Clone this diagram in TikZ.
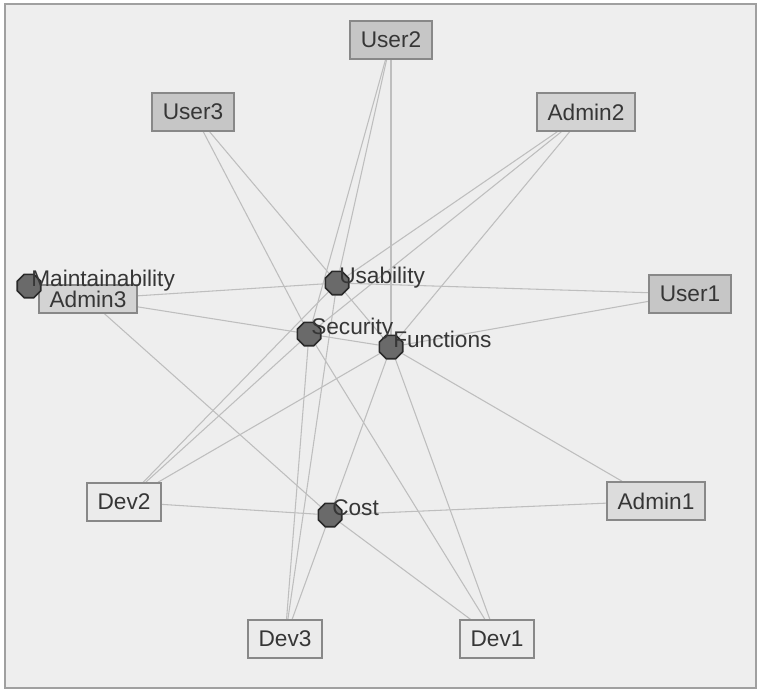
\documentclass[tikz,border=0pt]{standalone}
\usepackage{fontspec}
\setmainfont{Liberation Sans}
\usetikzlibrary{shapes.geometric, backgrounds}
\definecolor{bggray}{HTML}{EEEEEE}
\definecolor{framegray}{HTML}{A0A0A0}
\definecolor{userfill}{HTML}{C6C6C6}
\definecolor{admfill}{HTML}{D3D3D3}
\definecolor{devfill}{HTML}{EBEBEB}
\definecolor{boxline}{HTML}{888888}
\definecolor{octfill}{HTML}{6A6A6A}
\definecolor{octline}{HTML}{2A2A2A}
\definecolor{linkgray}{HTML}{BEBEBE}
\definecolor{txtgray}{HTML}{363636}
\tikzset{
  font={\fontsize{17pt}{20pt}\selectfont}}
\tikzset{
  stake/.style={draw=boxline, line width=1.1pt, text=txtgray, minimum height=28.5pt, inner xsep=8pt, inner ysep=0pt},
  crit/.style={regular polygon, regular polygon sides=8, draw=octline, fill=octfill, line width=1.2pt, minimum size=19pt, inner sep=0pt},
  critlbl/.style={anchor=base west, inner sep=0pt, text=txtgray, xshift=1.5pt},
  link/.style={draw=linkgray, line width=0.8pt},
}

\begin{document}
\begin{tikzpicture}[x=0.75pt, y=-0.75pt]
     \useasboundingbox (0,0) rectangle (760,690);

     % stakeholders
     \node[stake, fill=userfill] (u2) at (391,40) {User2};
     \node[stake, fill=userfill] (u3) at (193,112) {User3};
     \node[stake, fill=admfill] (a2) at (586,112) {Admin2};
     \node[stake, fill=userfill] (u1) at (690,294) {User1};
     \node[stake, fill=admfill, minimum height=21pt] (a3) at (88,299) {Admin3};
     \node[stake, fill=devfill] (d2) at (124,502) {Dev2};
     \node[stake, fill=admfill!80!white] (a1) at (656,501) {Admin1};
     \node[stake, fill=devfill] (d3) at (285,639) {Dev3};
     \node[stake, fill=devfill] (d1) at (497,639) {Dev1};

     % criteria
     \node[crit] (maint) at (29,286) {};
     \node[crit] (usab) at (337,283) {};
     \node[crit] (secu) at (309,334) {};
     \node[crit] (func) at (391,347) {};
     \node[crit] (cost) at (330,515) {};

     \node[critlbl] (maintlbl) at (maint.center) {Maintainability};
     \node[critlbl] (usablbl) at (usab.center) {Usability};
     \node[critlbl] (seculbl) at (secu.center) {Security};
     \node[critlbl] (funclbl) at (func.center) {Functions};
     \node[critlbl] (costlbl) at (cost.center) {Cost};

     \begin{scope}[on background layer]
     \fill[bggray] (5,4) rectangle (756,688);
     \draw[framegray, line width=1.2pt] (5,4) rectangle (756,688);

     %%
     \draw[link] (u2) -- (usab);
     \draw[link] (u2) -- (secu);
     \draw[link] (u2) -- (func);

     \draw[link] (u3) -- (secu);
     \draw[link] (u3) -- (func);

     \draw[link] (u1) -- (usab);
     \draw[link] (u1) -- (func);
     %%

     \draw[link] (a2) -- (usab);
     \draw[link] (a2) -- (secu);
     \draw[link] (a2) -- (func);

     \draw[link] (a3) -- (usab);
     \draw[link] (a3) -- (func);
     \draw[link] (a3) -- (cost);

     \draw[link] (a1) -- (func);
     \draw[link] (a1) -- (cost);
     %%

     \draw[link] (d2) -- (usab);
     \draw[link] (d2) -- (secu);
     \draw[link] (d2) -- (func);
     \draw[link] (d2) -- (cost);

     \draw[link] (d3) -- (usab);
     \draw[link] (d3) -- (secu);
     \draw[link] (d3) -- (func);

     \draw[link] (d1) -- (secu);
     \draw[link] (d1) -- (func);
     \draw[link] (d1) -- (cost);
     \end{scope}

   \end{tikzpicture}
\end{document}
